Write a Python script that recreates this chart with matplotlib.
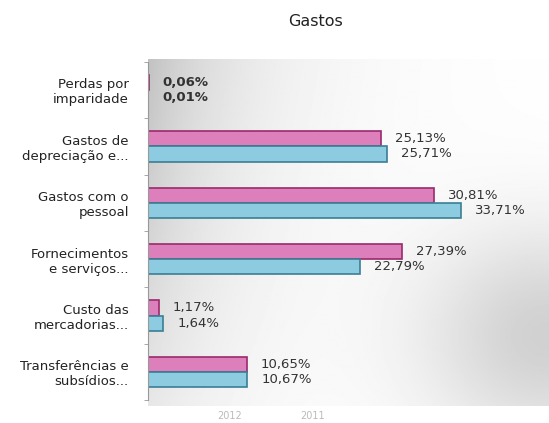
import matplotlib.pyplot as plt
import numpy as np

categorias = ["Transferências e\nsubsídios...", "Custo das\nmercadorias...",
              "Fornecimentos\ne serviços...", "Gastos com o\npessoal",
              "Gastos de\ndepreciação e...", "Perdas por\nimparidade"]
serie_rosa = [10.65, 1.17, 27.39, 30.81, 25.13, 0.06]
serie_azul = [10.67, 1.64, 22.79, 33.71, 25.71, 0.01]
legenda = ["2012", "2011"]

fig = plt.figure(figsize=(5.49, 4.23), dpi=100)

# fundo com degradé cinzento (como no original digitalizado)
bg = fig.add_axes([0.27, 0.04, 0.73, 0.82])
u, v = np.meshgrid(np.linspace(0, 1, 300), np.linspace(0, 1, 300))
g = 0.24 * np.exp(-u / 0.25) * (1 - 0.6 * v) + 0.18 * np.exp(-((1 - u) ** 2 / 0.1 + (0.8 - v) ** 2 / 0.1))
bg.imshow(1 - g, cmap="gray", vmin=0, vmax=1, aspect="auto", extent=[0, 1, 1, 0])
bg.axis("off")

ax = fig.add_axes([0.27, 0.054, 0.71, 0.80])
ax.set_facecolor("none")
y = np.arange(len(categorias))
h = 0.27
ax.barh(y + h / 2, serie_rosa, height=h, color="#dc7fbb", edgecolor="#9a2a6c", linewidth=1.2, label=legenda[0])
ax.barh(y - h / 2, serie_azul, height=h, color="#8ccbe0", edgecolor="#3a7f95", linewidth=1.2, label=legenda[1])

for i in range(len(categorias)):
    peso = "bold" if i == 5 else "normal"
    ax.annotate(f"{serie_rosa[i]:.2f}%".replace(".", ","), (serie_rosa[i], y[i] + h / 2),
                xytext=(10, 0), textcoords="offset points", va="center", fontsize=9.5,
                color="#333333", fontweight=peso)
    ax.annotate(f"{serie_azul[i]:.2f}%".replace(".", ","), (serie_azul[i], y[i] - h / 2),
                xytext=(10, 0), textcoords="offset points", va="center", fontsize=9.5,
                color="#333333", fontweight=peso)

ax.set_xlim(0, 42)
ax.set_ylim(-0.5, 5.5)
ax.set_yticks(y)
ax.set_yticklabels(categorias, fontsize=9.5, color="#222222")
ax.tick_params(axis="y", length=0, pad=14)
ax.set_yticks(np.arange(-0.5, 6, 1), minor=True)
ax.tick_params(axis="y", which="minor", length=3, color="#999999")
ax.set_xticks([])
for s in ["top", "right", "bottom"]:
    ax.spines[s].set_visible(False)
ax.spines["left"].set_color("#999999")

fig.text(0.575, 0.948, "Gastos", ha="center", va="center", fontsize=11.5, color="#222222")
leg = ax.legend(loc="upper center", bbox_to_anchor=(0.315, -0.005), ncol=2, frameon=False,
                fontsize=7, labelcolor="#bbbbbb", handlelength=0, handletextpad=0, columnspacing=6)
for hd in leg.legend_handles:
    hd.set_visible(False)

fig.savefig("out.png", dpi=100)
